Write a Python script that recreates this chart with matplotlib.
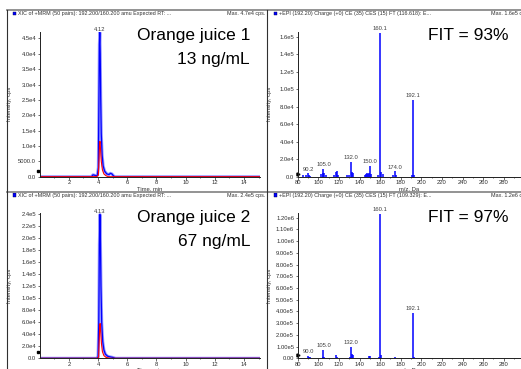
import numpy as np
import matplotlib
matplotlib.use("Agg")
import matplotlib.pyplot as plt
from matplotlib.lines import Line2D
from matplotlib.patches import Rectangle

plt.rcParams['font.family'] = ['Liberation Sans', 'DejaVu Sans']

W, H = 521, 369

# ---- chromatograms (XIC) ----
t1_blue = [0.0, 3.0, 3.55, 3.65, 3.75, 3.85, 3.95, 4.02, 4.06, 4.09, 4.12, 4.15, 4.18, 4.22,
           4.28, 4.35, 4.45, 4.6, 4.75, 4.85, 4.95, 5.05, 5.15, 6.0, 15.1]
i1_blue = [0, 0, 0, 600, 500, 300, 400, 3000, 25000, 43000, 47000, 40000, 26000, 14000,
           7000, 3500, 1800, 900, 700, 1100, 900, 300, 0, 0, 0]
t1_red = [0.0, 3.9, 4.02, 4.07, 4.1, 4.13, 4.17, 4.22, 4.3, 4.4, 4.55, 4.7, 15.1]
i1_red = [0, 0, 500, 6000, 10500, 11500, 9000, 5000, 2200, 900, 300, 0, 0]

t2_blue = [0.0, 3.9, 4.0, 4.05, 4.09, 4.13, 4.16, 4.2, 4.25, 4.32, 4.4, 4.5, 4.65, 4.8,
           5.0, 5.2, 15.1]
i2_blue = [0, 0, 1500, 60000, 190000, 240000, 200000, 120000, 60000, 28000, 14000, 7000,
           3500, 2500, 1500, 0, 0]
t2_red = [0.0, 3.95, 4.04, 4.08, 4.11, 4.14, 4.18, 4.23, 4.3, 4.4, 4.55, 4.8, 15.1]
i2_red = [0, 0, 2000, 30000, 52000, 58000, 45000, 25000, 11000, 4500, 1500, 0, 0]

# ---- EPI spectra ----
mz1 = [85.1, 88.0, 90.2, 91.1, 92.1, 103.0, 104.1, 105.0, 106.0, 107.1, 115.1, 117.1, 118.1,
       119.1, 128.1, 130.1, 132.0, 133.1, 134.1, 145.1, 146.1, 147.1, 148.1, 149.1, 150.0,
       151.0, 158.1, 160.1, 161.1, 163.1, 172.1, 174.0, 175.0, 191.1, 192.1, 193.1]
int1 = [1500, 2500, 3800, 2000, 1200, 3000, 4000, 9000, 4000, 2000, 1500, 5500, 6500,
        2000, 1500, 2500, 17000, 5000, 4500, 1500, 3000, 4000, 3500, 4500, 12500,
        3000, 2000, 165000, 5500, 3000, 1500, 6500, 2000, 1500, 88000, 2500]
lab1 = [90.2, 105.0, 132.0, 150.0, 160.1, 174.0, 192.1]

mz2 = [90.0, 91.1, 92.1, 104.1, 105.0, 106.0, 117.1, 118.1, 131.1, 132.0, 133.1, 134.1,
       149.1, 150.0, 159.1, 160.1, 161.1, 174.0, 192.1, 193.1]
int2 = [23000, 12000, 8000, 8000, 74000, 15000, 32000, 8000, 10000, 100000, 40000, 25000,
        20000, 22000, 15000, 1235000, 25000, 15000, 390000, 15000]
lab2 = [90.0, 105.0, 132.0, 160.1, 192.1]

# ---- axis ticks / labels ----
chrom_xt = [2, 4, 6, 8, 10, 12, 14]
spec_xt = [80, 100, 120, 140, 160, 180, 200, 220, 240, 260, 280]
yt_tl = [0, 5000, 10000, 15000, 20000, 25000, 30000, 35000, 40000, 45000]
yl_tl = ['0.0', '5000.0', '1.0e4', '1.5e4', '2.0e4', '2.5e4', '3.0e4', '3.5e4', '4.0e4', '4.5e4']
yt_tr = [0, 20000, 40000, 60000, 80000, 100000, 120000, 140000, 160000]
yl_tr = ['0.0', '2.0e4', '4.0e4', '6.0e4', '8.0e4', '1.0e5', '1.2e5', '1.4e5', '1.6e5']
yt_bl = [0, 20000, 40000, 60000, 80000, 100000, 120000, 140000, 160000, 180000, 200000,
         220000, 240000]
yl_bl = ['0.0', '2.0e4', '4.0e4', '6.0e4', '8.0e4', '1.0e5', '1.2e5', '1.4e5', '1.6e5',
         '1.8e5', '2.0e5', '2.2e5', '2.4e5']
yt_br = [0, 100000, 200000, 300000, 400000, 500000, 600000, 700000, 800000, 900000,
         1000000, 1100000, 1200000]
yl_br = ['0.00', '1.00e5', '2.00e5', '3.00e5', '4.00e5', '5.00e5', '6.00e5', '7.00e5',
         '8.00e5', '9.00e5', '1.00e6', '1.10e6', '1.20e6']

hdr_xic = "XIC of +MRM (50 pairs): 192.200/160.200 amu Expected RT: ..."
hdr_epi1 = "+EPI (192.20) Charge (+0) CE (35) CES (15) FT (116.618): E..."
hdr_epi2 = "+EPI (192.20) Charge (+0) CE (35) CES (15) FT (109.329): E..."


def fx(x):
    return x / W


def fy(y):
    return 1 - y / H


fig = plt.figure(figsize=(W / 100, H / 100), dpi=100)
fig.patch.set_facecolor('white')


def make_ax(x0, x1, y0, y1):
    ax = fig.add_axes([fx(x0), fy(y1), (x1 - x0) / W, (y1 - y0) / H])
    ax.patch.set_alpha(0)
    for s in ('top', 'right'):
        ax.spines[s].set_visible(False)
    for s in ('left', 'bottom'):
        ax.spines[s].set_linewidth(0.7)
        ax.spines[s].set_color('#202020')
    ax.tick_params(axis='both', labelsize=4.2, length=1.8, width=0.5, pad=0.8,
                   colors='#303030')
    return ax


def style_y(ax, ticks, labels, top, xlab):
    ax.set_ylim(0, top)
    ax.set_yticks(ticks)
    ax.set_yticklabels(labels)
    ax.set_ylabel('Intensity, cps', fontsize=4.2, color='#303030', labelpad=0)
    ax.yaxis.set_label_coords(xlab, 0.5)


# frame lines
for yy in (10, 191.6):
    fig.add_artist(Line2D([fx(7), fx(521)], [fy(yy), fy(yy)], transform=fig.transFigure,
                          color='#8a8a8a', lw=1.3))
for xx in (7.3, 266.5):
    fig.add_artist(Line2D([fx(xx), fx(xx)], [fy(10), fy(369)], transform=fig.transFigure,
                          color='#303030', lw=0.8))

# headers
for row, dy in enumerate((0, 181.6)):
    for x0, txt in ((12.7, hdr_xic), (273.7, hdr_epi1 if row == 0 else hdr_epi2)):
        fig.add_artist(Rectangle((fx(x0), fy(15.3 + dy)), 3.5 / W, 3.5 / H,
                                 transform=fig.transFigure, facecolor='#0000ff',
                                 edgecolor='#000040', lw=0.3))
        fig.text(fx(x0 + 5.5), fy(13.5 + dy), txt, fontsize=3.9, va='center', ha='left',
                 color='#303030')
fig.text(fx(265), fy(13.5), "Max. 4.7e4 cps.", fontsize=3.9, va='center', ha='right',
         color='#303030')
fig.text(fx(265), fy(13.5 + 181.6), "Max. 2.4e5 cps.", fontsize=3.9, va='center',
         ha='right', color='#303030')
fig.text(fx(491), fy(13.5), "Max. 1.6e5 cps.", fontsize=3.9, va='center', ha='left',
         color='#303030')
fig.text(fx(491), fy(13.5 + 181.6), "Max. 1.2e6 cps.", fontsize=3.9, va='center',
         ha='left', color='#303030')

# ---- chromatogram panels ----
chroms = [
    (0, t1_blue, i1_blue, t1_red, i1_red, yt_tl, yl_tl, 4.72e4, '4.12', 4.12, 47000,
     'Orange juice 1', '13 ng/mL'),
    (181.6, t2_blue, i2_blue, t2_red, i2_red, yt_bl, yl_bl, 2.42e5, '4.13', 4.13, 240000,
     'Orange juice 2', '67 ng/mL'),
]
for dy, tb, ib, tr, ir, yt, yl, top, plab, px, py, name, conc in chroms:
    ax = make_ax(39.7, 260, 31.7 + dy, 176.7 + dy)
    ax.plot(tb, ib, color='#9a9aff', lw=2.2, solid_joinstyle='round')
    ax.plot(tb, ib, color='#0000ff', lw=0.9)
    ax.plot(tr, ir, color='#ff0000', lw=0.8)
    ax.set_xlim(0, 15.1)
    ax.set_xticks(chrom_xt)
    ax.set_xticks(range(1, 16), minor=True)
    ax.tick_params(axis='x', which='minor', length=1.0, width=0.4)
    style_y(ax, yt, yl, top, -0.127)
    ax.set_xlabel('Time, min', fontsize=4.2, color='#303030', labelpad=0.5)
    ax.text(px, py, plab, fontsize=4.2, ha='center', va='bottom', color='#404040',
            clip_on=False)
    # threshold marker at the foot of the y axis
    ax.plot([-0.008], [0.04], marker='s', ms=1.6, color='black', transform=ax.transAxes,
            clip_on=False)
    fig.text(fx(250), fy(40 + dy), name, fontsize=12.5, ha='right', va='baseline')
    fig.text(fx(250), fy(64 + dy), conc, fontsize=12.5, ha='right', va='baseline')

# ---- spectrum panels ----
specs = [
    (0, mz1, int1, lab1, yt_tr, yl_tr, 1.66e5, 'FIT = 93%'),
    (181.6, mz2, int2, lab2, yt_br, yl_br, 1.237e6, 'FIT = 97%'),
]
for dy, mz, inten, labs, yt, yl, top, fit in specs:
    ax = make_ax(297.7, 520, 31.7 + dy, 176.7 + dy)
    ax.vlines(mz, 0, inten, color='#0000ff', lw=1.1)
    ax.set_xlim(80, 295.8)
    ax.set_xticks(spec_xt)
    ax.set_xticks(range(80, 296, 10), minor=True)
    ax.tick_params(axis='x', which='minor', length=1.0, width=0.4)
    style_y(ax, yt, yl, top, -0.117)
    ax.set_xlabel('m/z, Da', fontsize=4.2, color='#303030', labelpad=0.5)
    for m in labs:
        k = mz.index(m)
        ax.text(m, inten[k] + top * 0.01, f'{m:.1f}', fontsize=4.2, ha='center',
                va='bottom', color='#404040', clip_on=False)
    ax.plot([0.002], [0.02], marker='>', ms=2.2, color='black', transform=ax.transAxes,
            clip_on=False)
    fig.text(fx(428), fy(40 + dy), fit, fontsize=12.5, ha='left', va='baseline')

fig.savefig('out.png', dpi=100)
